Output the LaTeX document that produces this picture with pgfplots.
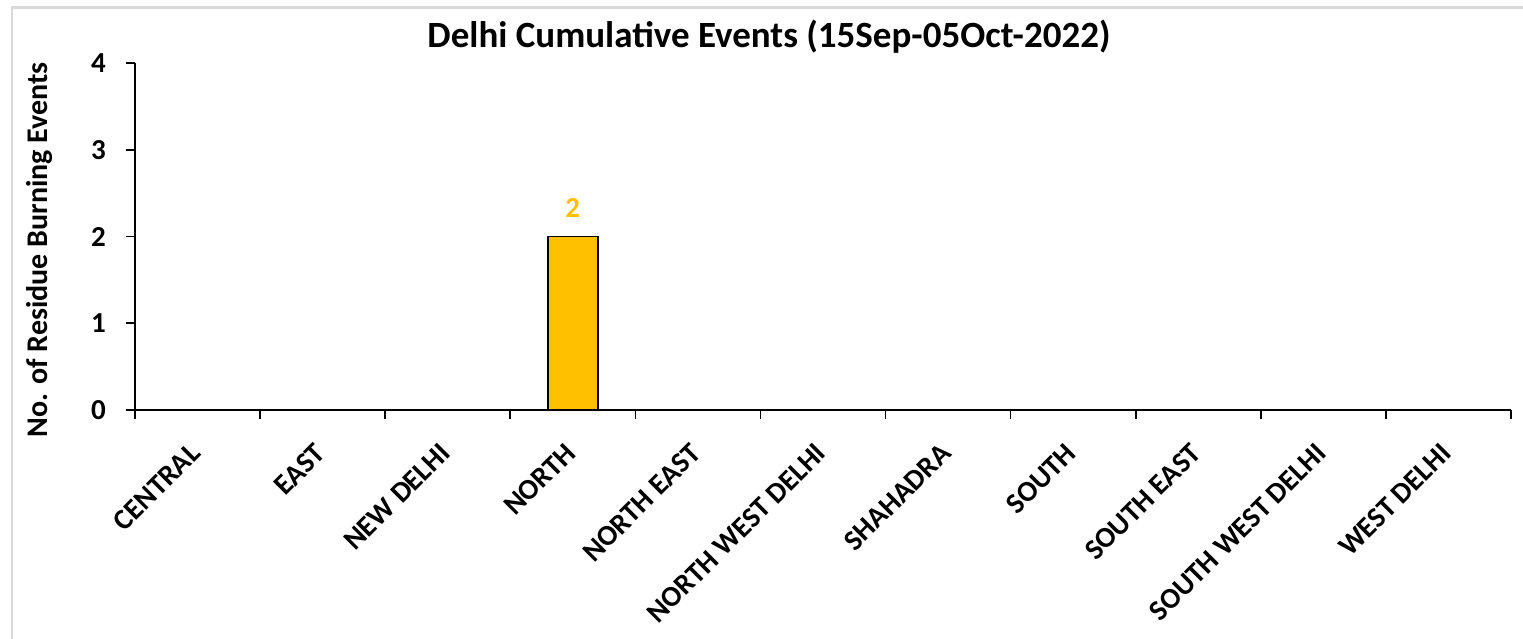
\documentclass[border=0pt]{standalone}
\usepackage{fontspec}
\setmainfont{Carlito}
\usepackage{pgfplots}
\pgfplotsset{compat=1.18}
\definecolor{barorange}{HTML}{FFC000}
\definecolor{framegray}{HTML}{D9D9D9}

\begin{document}
\begin{tikzpicture}[x=1pt,y=1pt]
\path[use as bounding box] (0,0) rectangle (1523,638);
\fill[white] (0,0) rectangle (1523,638);
\begin{scope}
\clip (0,0) rectangle (1523,638);
\draw[framegray, line width=2.5pt] (12,-5) -- (12,630.5) -- (1530,630.5);
\end{scope}

\node[font=\fontsize{37}{42}\selectfont\bfseries] at (769,601) {Delhi Cumulative Events (15Sep-05Oct-2022)};
\node[font=\fontsize{30}{34}\selectfont\bfseries, rotate=90] at (40,388) {No. of Residue Burning Events};

\begin{axis}[
    at={(135pt,228pt)}, anchor=south west,
    scale only axis,
    width=1376pt, height=347pt,
    xmin=-0.5, xmax=10.5,
    ymin=0, ymax=4,
    axis x line*=bottom, axis y line*=left,
    axis line style={line width=2pt, -},
    xtick={0,...,10},
    xticklabels={CENTRAL, EAST, NEW DELHI, NORTH, NORTH EAST, NORTH WEST DELHI, SHAHADRA, SOUTH, SOUTH EAST, SOUTH WEST DELHI, WEST DELHI},
    minor xtick={-0.5,0.5,...,10.5},
    ytick={0,1,2,3,4},
    tick align=outside,
    major x tick style={draw=none},
    minor tick length=9pt,
    major tick length=9pt,
    every tick/.style={line width=1.6pt, black},
    minor x tick style={line width=1.6pt, black},
    xticklabel style={xshift=-9pt, yshift=-21pt, rotate=45, anchor=north east, font=\fontsize{29}{33}\selectfont\bfseries, inner sep=1pt},
    yticklabel style={font=\fontsize{29}{33}\selectfont\bfseries, inner sep=2pt, xshift=-18pt},
    /pgf/number format/assume math mode=true,
    ybar, bar width=50pt,
    clip=false,
]
\addplot[ybar, fill=barorange, draw=black, line width=1.5pt, forget plot]
    coordinates {(0,0) (1,0) (2,0) (4,0) (5,0) (6,0) (7,0) (8,0) (9,0) (10,0)};
\addplot[ybar, fill=barorange, draw=black, line width=1.5pt,
    nodes near coords,
    every node near coord/.append style={text=barorange, font=\fontsize{29}{33}\selectfont\bfseries, yshift=15pt}]
    coordinates {(3,2)};
\end{axis}
\end{tikzpicture}
\end{document}
